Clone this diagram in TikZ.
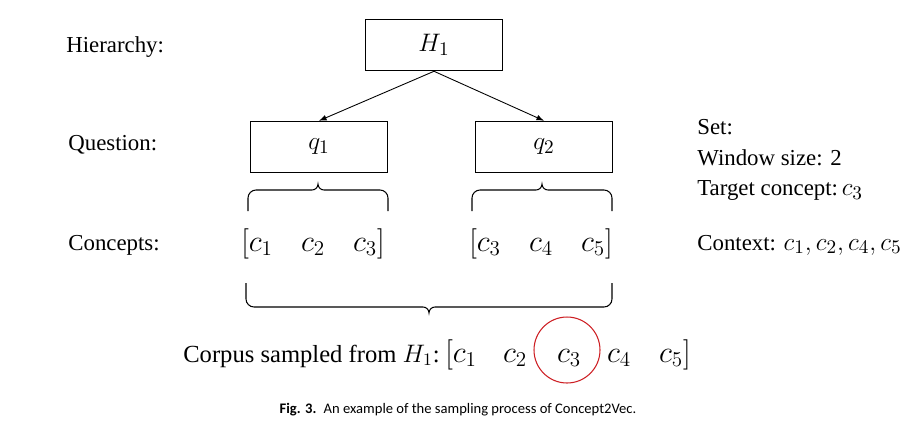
\documentclass[tikz,border=0pt]{standalone}
\usepackage{fontspec}
\setmainfont{Liberation Serif}
\newfontfamily\capfont{Carlito}
\usetikzlibrary{positioning}
\definecolor{ringred}{RGB}{205,30,35}

\begin{document}
\begin{tikzpicture}[x=0.02cm, y=0.02cm, font=\fontsize{13}{15.5}\selectfont,
        box/.style={draw, line width=.6pt, minimum width=2.74cm, minimum height=1.03cm, font=\fontsize{15}{17}\selectfont},
        lbl/.style={anchor=base west, inner sep=0pt},
        cc/.style={anchor=base, inner sep=0pt, font=\fontsize{17}{20}\selectfont}]
        \useasboundingbox (0,0) rectangle (917,-434);
        % row labels
        \node[lbl] (hier) at (66,-52) {Hierarchy:};
        \node[lbl] (ques) at (68,-150) {Question:};
        \node[lbl] (conc) at (68,-250) {Concepts:};
        % hierarchy and questions
        \node[box] (h1) at (434,-45) {$H_1$};
        \node[box] (q1) at (319,-147) {$q_1$};
        \node[box] (q2) at (544,-147) {$q_2$};
        \draw[line width = .5pt, ->, >=latex] (h1.south) -- (q1.north);
        \draw[line width = .5pt, ->, >=latex] (h1.south) -- (q2.north);
        % braces below the questions
        \draw[line width = .6pt] (248,-211) -- (248,-198) arc[start angle=180, end angle=90, radius=8] -- (312,-190)
            arc[start angle=-90, end angle=0, radius=6] arc[start angle=180, end angle=270, radius=6] -- (380,-190)
            arc[start angle=90, end angle=0, radius=8] -- (388,-211);
        \draw[line width = .6pt] (472,-211) -- (472,-198) arc[start angle=180, end angle=90, radius=8] -- (536,-190)
            arc[start angle=-90, end angle=0, radius=6] arc[start angle=180, end angle=270, radius=6] -- (604,-190)
            arc[start angle=90, end angle=0, radius=8] -- (612,-211);
        % concepts of each question
        \node[cc] (row1) at (313,-251) {$[c_1\hspace{16pt}c_2\hspace{16pt}c_3]$};
        \node[cc] (row2) at (541,-251) {$[c_3\hspace{16pt}c_4\hspace{16pt}c_5]$};
        % brace over the corpus
        \draw[line width = .6pt] (246,-283) -- (246,-299) arc[start angle=180, end angle=270, radius=8] -- (423,-307)
            arc[start angle=90, end angle=0, radius=6] arc[start angle=180, end angle=90, radius=6] -- (604,-307)
            arc[start angle=270, end angle=360, radius=8] -- (612,-283);
        % corpus
        \node[anchor=base east, inner sep=0pt, font=\fontsize{14}{16}\selectfont] (corp) at (440,-362) {Corpus sampled from $H_1$:};
        \node[cc, anchor=base west] (cp1) at (445,-362) {$[c_1$};
        \node[cc] (cp2) at (515,-362) {$c_2$};
        \node[cc] (cp3) at (569,-362) {$c_3$};
        \node[cc] (cp4) at (619,-362) {$c_4$};
        \node[cc, anchor=base east] (cp5) at (691,-362) {$c_5]$};
        \node[draw=ringred, line width=.6pt, circle, minimum size=1.32cm] (ring) at (567,-350) {};
        % settings
        \node[anchor=north west, align=left, inner sep=0pt] (set) at (697,-119) {Set:\\[2pt] Window size: 2\\[2pt] Target concept:\,{\fontsize{15.5}{18}\selectfont$c_3$}};
        \node[lbl] (ctx) at (697,-250) {Context: {\fontsize{15.5}{18}\selectfont$c_1,c_2,c_4,c_5$}};
        % caption
        \node[font=\capfont\fontsize{8.3}{10}\selectfont] (cap) at (458,-410) {\textbf{Fig. 3.}\enspace An example of the sampling process of Concept2Vec.};
\end{tikzpicture}
\end{document}
